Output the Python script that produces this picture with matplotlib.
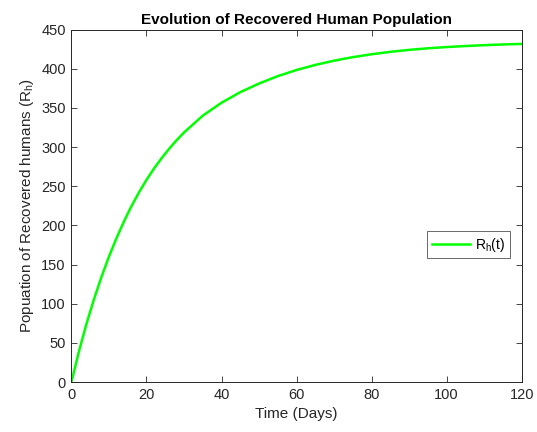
import matplotlib
matplotlib.use("Agg")
import matplotlib.pyplot as plt

# Recovered human population over time
days = [0, 2, 4, 6, 8, 10, 12, 14, 16, 18, 20, 22, 24, 26, 28, 30, 35, 40,
        45, 50, 55, 60, 65, 70, 75, 80, 85, 90, 95, 100, 105, 110, 115, 120]
recovered = [0, 39, 74, 105.5, 134, 160, 183.5, 205, 224.5, 242, 258, 272.5,
             285.5, 297.5, 308.5, 318.5, 340, 356.5, 370, 381, 390.5, 398.3,
             404.8, 410.2, 414.7, 418.4, 421.5, 424.0, 426.0, 427.6, 428.9,
             430.0, 430.9, 431.6]

x_ticks = [0, 20, 40, 60, 80, 100, 120]
y_ticks = [0, 50, 100, 150, 200, 250, 300, 350, 400, 450]

plt.rcParams["font.family"] = ["Liberation Sans", "DejaVu Sans"]
plt.rcParams["mathtext.default"] = "regular"

axis_gray = (0.15, 0.15, 0.15)

fig = plt.figure(figsize=(5.37, 4.32), dpi=100)
ax = fig.add_axes([0.133, 0.1157, 0.8385, 0.816])

ax.plot(days, recovered, color="#00ff00", lw=1.8, label="$R_h(t)$",
        solid_joinstyle="round")

ax.set_xlim(0, 120)
ax.set_ylim(0, 450)
ax.set_xticks(x_ticks)
ax.set_yticks(y_ticks)
ax.tick_params(direction="in", length=4, width=0.6, colors=axis_gray,
               labelsize=10.5, top=True, right=True, pad=4)
for sp in ax.spines.values():
    sp.set_color(axis_gray)
    sp.set_linewidth(0.7)

ax.set_title("Evolution of Recovered Human Population", fontsize=11,
             fontweight="bold", pad=4)
ax.set_xlabel("Time (Days)", fontsize=11, color=axis_gray)
ax.set_ylabel("Popuation of Recovered humans ($R_h$)", fontsize=11,
              color=axis_gray)

leg = ax.legend(loc="center left", bbox_to_anchor=(0.789, 0.39),
                fontsize=10, frameon=True, fancybox=False, handlelength=2.8,
                borderpad=0.35, handletextpad=0.3, borderaxespad=0)
leg.get_frame().set_edgecolor(axis_gray)
leg.get_frame().set_linewidth(0.6)

fig.savefig("out.png", dpi=100)
